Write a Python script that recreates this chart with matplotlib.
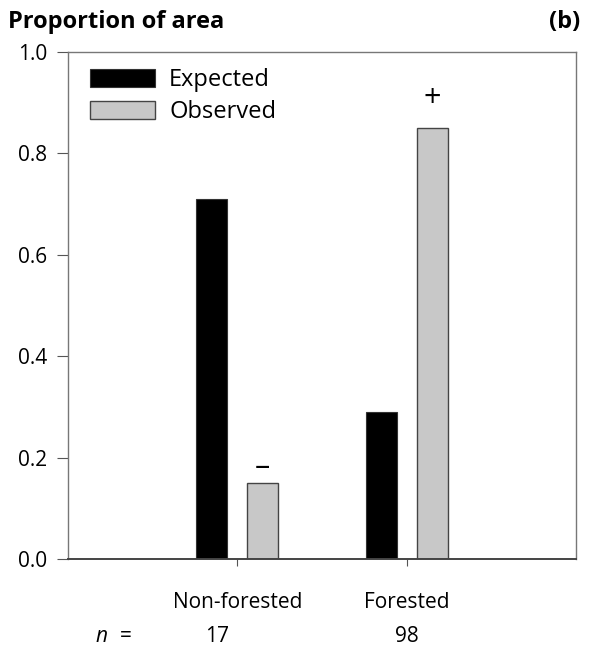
import matplotlib
matplotlib.use("Agg")
import matplotlib.pyplot as plt
import numpy as np

categories = ["Non-forested", "Forested"]
expected = [0.71, 0.29]
observed = [0.15, 0.85]
signs = ["\u2013", "+"]
n_values = ["17", "98"]
yticks = [0.0, 0.2, 0.4, 0.6, 0.8, 1.0]

plt.rcParams['font.family'] = ['Open Sans', 'DejaVu Sans']

fig = plt.figure(figsize=(5.9, 6.52), dpi=100)
ax = fig.add_axes([68/590, (652-559)/652, 508/590, 507/652])

x = np.arange(len(categories))
w = 0.183
off = 0.15
ax.bar(x - off, expected, w, color="black", edgecolor="#333333", linewidth=0.8, label="Expected")
ax.bar(x + off, observed, w, color="#c8c8c8", edgecolor="#444444", linewidth=1.0, label="Observed")

sign_gap = [0.032, 0.058]
for xi, v, s, g in zip(x, observed, signs, sign_gap):
    ax.text(xi + off, v + g, s, ha="center", va="center", fontsize=22, color="black")

ax.set_xlim(-1.0, 2.0)
ax.set_ylim(0, 1.0)
ax.set_yticks(yticks)
ax.set_yticklabels([f"{t:.1f}" for t in yticks])
ax.set_xticks(x)
ax.set_xticklabels(categories)
ax.tick_params(axis="y", direction="out", length=8, width=0.8, labelsize=15, pad=7, color="#555555")
ax.tick_params(axis="x", direction="out", length=5, width=0.8, labelsize=15, pad=19, color="#555555")
for sp in ax.spines.values():
    sp.set_color("#777777")
    sp.set_linewidth(1.0)
ax.spines["bottom"].set_color("#444444")
ax.spines["bottom"].set_linewidth(1.4)

# n row
ny = -0.153
for xi, nv in zip(x, n_values):
    ax.text(xi - 0.12 if xi == 0 else xi, ny, nv, ha="center", va="center", fontsize=15, clip_on=False)
ax.text(-0.80, ny, "n", ha="center", va="center", fontsize=15, style="italic", clip_on=False)
ax.text(-0.66, ny, "=", ha="center", va="center", fontsize=15, clip_on=False)

leg = ax.legend(loc="upper left", bbox_to_anchor=(22/508, 1 - 16/507), frameon=False, fontsize=17,
                handlelength=2.75, handleheight=0.8, handletextpad=0.6, labelspacing=0.35,
                borderaxespad=0.0, borderpad=0.0)

fig.text(8/590, 1 - 22/652, "Proportion of area", fontsize=17, fontweight="bold", ha="left", va="center")
fig.text(580/590, 1 - 22/652, "(b)", fontsize=17, fontweight="bold", ha="right", va="center")

fig.savefig("out.png", dpi=100)
